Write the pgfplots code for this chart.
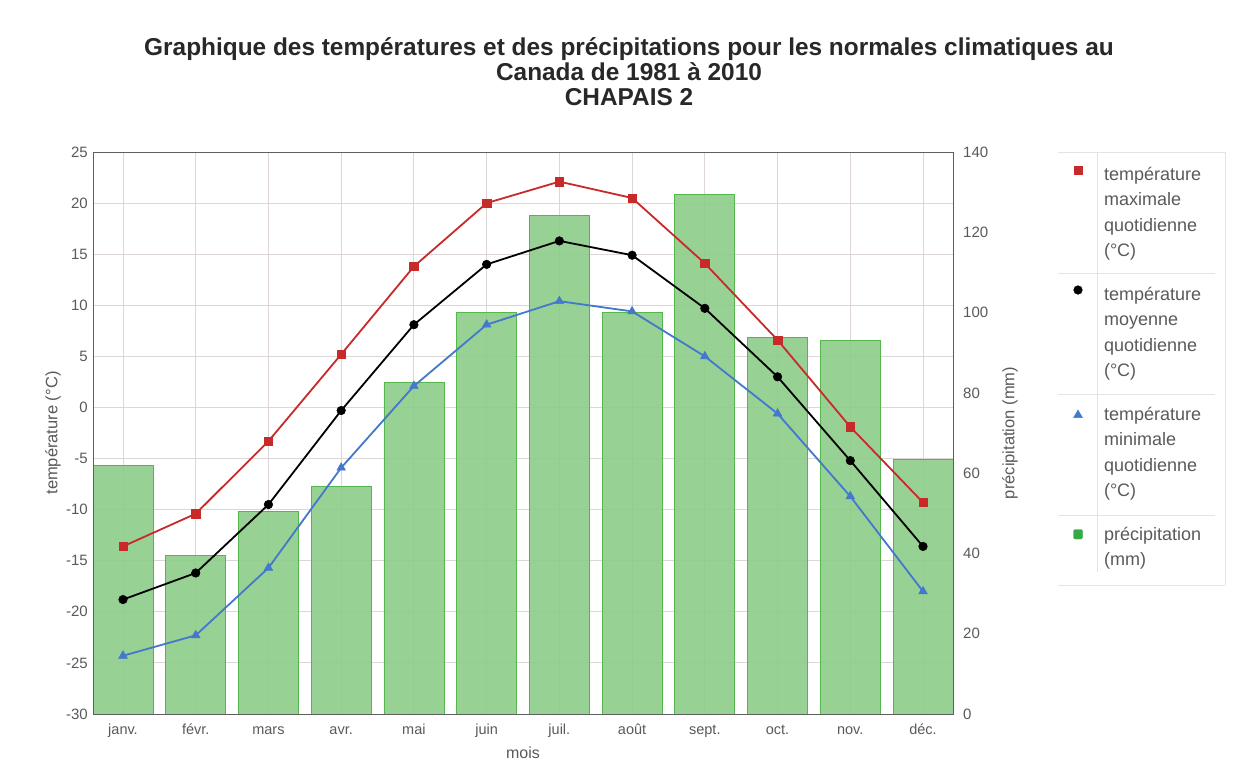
\documentclass[border=0pt]{standalone}
\usepackage{fontspec}
\setmainfont{Liberation Sans}
\usepackage{pgfplots}
\usepackage{pgfplotstable}
\pgfplotsset{compat=1.18}
\definecolor{maxred}{RGB}{200,42,42}
\definecolor{minblue}{RGB}{68,120,205}
\definecolor{barfill}{RGB}{140,205,137}
\definecolor{baredge}{RGB}{85,182,78}
\definecolor{legbar}{RGB}{50,170,70}
\definecolor{gridc}{RGB}{222,214,214}
\definecolor{axisc}{RGB}{95,95,95}
\definecolor{txt}{RGB}{90,90,90}
\definecolor{titlec}{RGB}{40,40,40}
\definecolor{legline}{RGB}{228,228,228}

\pgfplotstableread{
m tmax tmean tmin prec
0  -13.6 -18.8 -24.3 61.9
1  -10.4 -16.2 -22.3 39.4
2  -3.3  -9.5  -15.7 50.4
3  5.2   -0.3  -5.9  56.6
4  13.8  8.1   2.1   82.5
5  20.0  14.0  8.1   100.1
6  22.1  16.3  10.4  124.2
7  20.5  14.9  9.4   100.1
8  14.1  9.7   5.0   129.5
9  6.6   3.0   -0.6  93.8
10 -1.9  -5.2  -8.7  93.0
11 -9.3  -13.6 -18.0 63.5
}\data

\pgfplotsset{
  base/.style={
    scale only axis, width=860pt, height=562pt,
    at={(93pt,52pt)}, anchor=south west,
    xmin=-0.4125, xmax=11.4125,
    xtick={0,...,11},
    tick style={draw=none},
    /pgf/number format/assume math mode=true,
    ticklabel style={font=\fontsize{15}{15}\selectfont, text=txt},
  },
  markleg/.style={legend image code/.code={\path[draw=none, fill=none] (-20pt,-9pt) rectangle (19pt,9pt); \draw[##1] plot coordinates {(0pt,#1)};}},
  barleg/.style={legend image code/.code={\path[draw=none, fill=none] (-20pt,-9pt) rectangle (19pt,9pt); \fill[legbar, rounded corners=1.5pt] (-4.5pt,1pt) rectangle (4.5pt,10.5pt);}},
}

\begin{document}
\begin{tikzpicture}
\path[use as bounding box] (0pt,0pt) rectangle (1249pt,766pt);
\fill[white] (0pt,0pt) rectangle (1249pt,766pt);

% grid
\begin{axis}[base, ymin=-30, ymax=25, ytick={-30,-25,...,25},
  xticklabels={}, yticklabels={},
  grid=major, major grid style={draw=gridc, line width=0.9pt},
  axis line style={draw=none}]
\end{axis}

% precipitation bars
\begin{axis}[base, ymin=0, ymax=140, ytick={0,20,...,140},
  axis x line=none, axis y line*=right,
  axis line style={draw=axisc, line width=0.9pt},
  yticklabel style={anchor=west, inner sep=0pt, xshift=10pt},
  ylabel={précipitation (mm)},
  ylabel style={at={(axis description cs:1.0663,0.5)}, anchor=center, font=\fontsize{16.5}{16.5}\selectfont, text=txt},
  ybar, bar width=60pt]
\addplot[fill=barfill, draw=baredge, line width=0.8pt, fill opacity=0.9] table[x=m, y=prec]{\data};
\end{axis}

% temperatures
\begin{axis}[base, ymin=-30, ymax=25, ytick={-30,-25,...,25},
  axis line style={draw=axisc, line width=0.9pt},
  xticklabels={janv.,févr.,mars,avr.,mai,juin,juil.,août,sept.,oct.,nov.,déc.},
  xticklabel style={anchor=north, inner sep=0pt, yshift=-9pt, text height=11pt, text depth=3pt, font=\fontsize{14.5}{14.5}\selectfont},
  yticklabel style={anchor=east, inner sep=0pt, xshift=-5pt},
  xlabel={mois},
  xlabel style={at={(axis description cs:0.5,0)}, anchor=base, yshift=-44pt, font=\fontsize{16}{16}\selectfont, text=txt},
  ylabel={température (°C)},
  ylabel style={at={(axis description cs:-0.0465,0.5)}, anchor=center, font=\fontsize{16.5}{16.5}\selectfont, text=txt},
  markleg=10pt,
  legend style={at={(1.1221,1)}, anchor=north west, yshift=-12pt, draw=none, fill=none,
    inner sep=0pt, outer sep=0pt, row sep=95pt, column sep=5pt,
    cells={anchor=base west, inner sep=0pt},
    font=\fontsize{18}{25.5}\selectfont, text=txt},
]
\addplot[maxred, line width=1.8pt, mark=square*, mark size=4.2pt, mark options={solid, line width=0.5pt}] table[x=m, y=tmax]{\data};
\addlegendentry{\parbox[t]{115pt}{\rule{0pt}{14pt}température\\maximale\\quotidienne\\(°C)\rule[-5pt]{0pt}{5pt}}}
\addplot[black, line width=1.8pt, mark=*, mark size=4.3pt, mark options={solid, line width=0.5pt}] table[x=m, y=tmean]{\data};
\addlegendentry{\parbox[t]{115pt}{\rule{0pt}{14pt}température\\moyenne\\quotidienne\\(°C)\rule[-5pt]{0pt}{5pt}}}
\addplot[minblue, line width=1.8pt, mark=triangle*, mark size=5pt, mark options={solid, line width=0.5pt}, markleg=5pt] table[x=m, y=tmin]{\data};
\addlegendentry{\parbox[t]{115pt}{\rule{0pt}{14pt}température\\minimale\\quotidienne\\(°C)\rule[-5pt]{0pt}{5pt}}}
\addlegendimage{barleg}
\addlegendentry{\parbox[t]{115pt}{\rule{0pt}{14pt}précipitation\\(mm)\rule[-5pt]{0pt}{5pt}}}
\end{axis}

% legend table rules
\begin{scope}[draw=legline, line width=0.9pt]
\draw (1058pt,614pt) -- (1225pt,614pt);
\draw (1225pt,614pt) -- (1225pt,181pt);
\draw (1058pt,493pt) -- (1215pt,493pt);
\draw (1058pt,372pt) -- (1215pt,372pt);
\draw (1058pt,251pt) -- (1215pt,251pt);
\draw (1058pt,181pt) -- (1225pt,181pt);
\draw (1097pt,614pt) -- (1097pt,194pt);
\end{scope}

\node[align=center, font=\bfseries\fontsize{24.4}{25}\selectfont, text=titlec] at (629pt,694pt)
  {Graphique des températures et des précipitations pour les normales climatiques au\\Canada de 1981 à 2010\\CHAPAIS 2};
\end{tikzpicture}
\end{document}
